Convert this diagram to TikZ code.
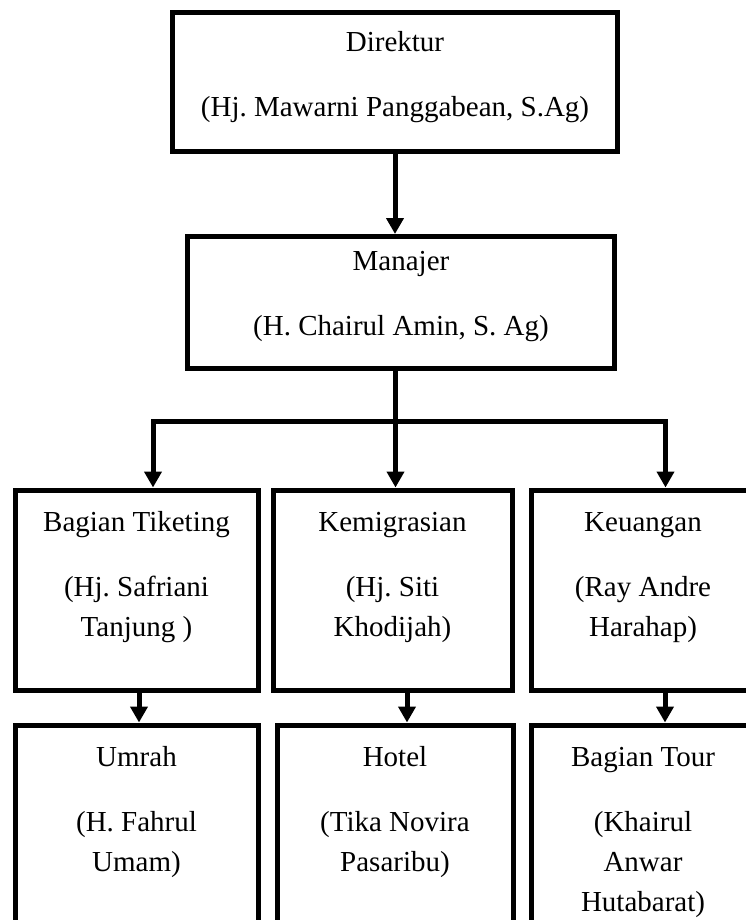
\documentclass[tikz,border=0pt]{standalone}
\usepackage{fontspec}
\setmainfont{Liberation Serif}
\usetikzlibrary{arrows.meta}
\frenchspacing
\begin{document}
\begin{tikzpicture}[x=1pt,y=-1pt,
  box/.style={draw, line width=5pt, rectangle, inner sep=0pt},
  txt/.style={anchor=north, align=center, inner sep=0pt, font=\fontsize{29}{40}\selectfont},
  arr/.style={line width=5pt, -{Triangle[width=17pt,length=16pt]}}]
\useasboundingbox (0,0) rectangle (746,920);
\clip (0,0) rectangle (746,920);
% boxes
\node[box, minimum width=445pt, minimum height=139pt] (dir) at (395,82) {};
\node[box, minimum width=427pt, minimum height=131.5pt] (man) at (401,302.25) {};
\node[box, minimum width=243pt, minimum height=200pt] (bt) at (136.5,590) {};
\node[box, minimum width=239pt, minimum height=200pt] (kem) at (392.5,590) {};
\node[box, minimum width=224pt, minimum height=200pt] (keu) at (643,590) {};
\node[box, minimum width=243pt, minimum height=240pt] (umr) at (136.5,845) {};
\node[box, minimum width=236pt, minimum height=240pt] (hot) at (395,845) {};
\node[box, minimum width=224pt, minimum height=240pt] (tour) at (643,845) {};
% texts
\node[txt] (dirT) at ([yshift=-13.7pt]dir.north) {\strut Direktur\\[25pt](Hj. Mawarni Panggabean, S.Ag)};
\node[txt] (manT) at ([yshift=-8pt]man.north) {\strut Manajer\\[25pt](H. Chairul Amin, S. Ag)};
\node[txt] (btT) at ([yshift=-16pt]bt.north) {\strut Bagian Tiketing\\[25pt](Hj. Safriani\\Tanjung )};
\node[txt] (kemT) at ([yshift=-16pt]kem.north) {\strut Kemigrasian\\[25pt](Hj. Siti\\Khodijah)};
\node[txt] (keuT) at ([yshift=-16pt]keu.north) {\strut Keuangan\\[25pt](Ray Andre\\Harahap)};
\node[txt] (umrT) at ([yshift=-16pt]umr.north) {\strut Umrah\\[25pt](H. Fahrul\\Umam)};
\node[txt] (hotT) at ([yshift=-16pt]hot.north) {\strut Hotel\\[25pt](Tika Novira\\Pasaribu)};
\node[txt] (tourT) at ([yshift=-16pt]tour.north) {\strut Bagian Tour\\[25pt](Khairul\\Anwar\\Hutabarat)};
% helper coordinates
\coordinate (xm) at (395.5,0);
\coordinate (hl) at (153,421);
\coordinate (hr) at (665.5,421);
\coordinate (xa) at (139,0);
\coordinate (xb) at (407,0);
\coordinate (xc) at (665,0);
% connectors
\draw[arr] (dir.south) -- (dir.south |- man.north);
\draw[arr] (man.south -| xm) -- (kem.north -| xm);
\draw[line width=5pt, {Triangle[width=17pt,length=16pt]}-{Triangle[width=17pt,length=16pt]}]
  (bt.north -| hl) -- (hl) -- (hr) -- (keu.north -| hr);
\draw[arr] (bt.south -| xa) -- (umr.north -| xa);
\draw[arr] (kem.south -| xb) -- (hot.north -| xb);
\draw[arr] (keu.south -| xc) -- (tour.north -| xc);
\end{tikzpicture}
\end{document}
